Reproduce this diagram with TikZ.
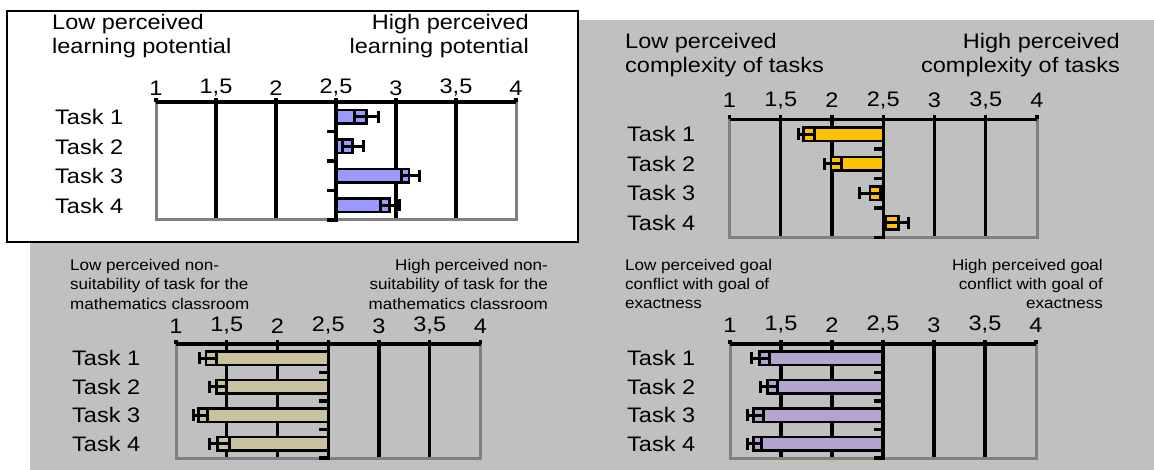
\documentclass[tikz,border=0pt]{standalone}
\usepackage{fontspec}
\setmainfont[FakeStretch=1.12]{Liberation Sans}
\newfontfamily\smallf[FakeStretch=1.1]{Liberation Sans}
\definecolor{bggrey}{HTML}{C0C0C0}
\definecolor{plotgrey}{HTML}{808080}
\definecolor{blueb}{HTML}{9999FF}
\definecolor{goldb}{HTML}{FFC000}
\definecolor{tanb}{HTML}{CAC29E}
\definecolor{lilb}{HTML}{B3A5CF}
\tikzset{
  lbl/.style={inner sep=0pt, font=\fontsize{21}{25}\selectfont},
  sml/.style={inner sep=0pt, font=\smallf\fontsize{15.5}{18}\selectfont},
  gridl/.style={line width=3.2pt, draw=black},
  frameline/.style={line width=3pt, draw=plotgrey},
  axisline/.style={line width=3.2pt, draw=black},
  barline/.style={line width=2.8pt, draw=black},
  errline/.style={line width=3pt, draw=black},
}
% #1 x0, #2 unit, #3 top, #4 H, #5 colour, #6 label offset, #7 bars
\newcommand\drawpanel[7]{%
\begin{scope}[xshift=#1pt, yshift=-#3pt, x=#2pt, y=-1pt]
  \pgfmathsetmacro\hh{#4/4}
  \foreach \v in {0.5,1,2,2.5} \draw[gridl] (\v,0) -- (\v,#4);
  \draw[frameline] (0,0) -- (0,#4) -- (3,#4) -- (3,0);
  \foreach \i/\val/\inn/\wh in {#7} {
    \pgfmathsetmacro\yc{(\i-0.5)*\hh}
    \draw[barline, fill=#5] (1.5,\yc-6.8) rectangle (\val-1,\yc+6.8);
    \draw[errline] (\inn-1,\yc) -- (\wh-1,\yc);
    \draw[errline] (\inn-1,\yc-6) -- (\inn-1,\yc+6);
    \draw[errline] (\wh-1,\yc-6) -- (\wh-1,\yc+6);
  }
  \draw[axisline] (1.5,0) -- (1.5,#4+2);
  \foreach \k in {1,2,3,4} \draw[axisline] (1.5,\k*\hh) -- ++(-9pt,0pt);
  \draw[axisline] (0,0) -- (3,0);
  \foreach \v/\t in {0/1,1/{1,5},2/2,3/{2,5},4/3,5/{3,5},6/4} {
    \draw[axisline] (\v/2,0) -- ++(0pt,4pt);
    \node[lbl] at (\v/2,-#6) {\t};
  }
\end{scope}}
\begin{document}
\begin{tikzpicture}[x=1pt,y=-1pt]
\useasboundingbox (0,0) rectangle (1154,470);
\fill[bggrey] (30,20) rectangle (1154,470);
\draw[line width=1.8pt, fill=white] (7,11) rectangle (578,242);

% Panel 1
\node[lbl, anchor=west] (p1l1) at (52,24) {Low perceived};
\node[lbl, anchor=west] (p1l2) at (52,48) {learning potential};
\node[lbl, anchor=east] (p1r1) at (529,24) {High perceived};
\node[lbl, anchor=east] (p1r2) at (529,48) {learning potential};
\drawpanel{156}{120}{102}{118}{blueb}{14}{1/2.756/2.658/2.858, 2/2.636/2.558/2.733, 3/3.108/3.042/3.192, 4/2.944/2.867/3.025}
\node[lbl, anchor=west] (p1t1) at (55,117) {Task 1};
\node[lbl, anchor=west] (p1t2) at (55,146.5) {Task 2};
\node[lbl, anchor=west] (p1t3) at (55,176) {Task 3};
\node[lbl, anchor=west] (p1t4) at (55,205.5) {Task 4};

% Panel 2
\node[lbl, anchor=west] (p2l1) at (625,43) {Low perceived};
\node[lbl, anchor=west] (p2l2) at (625,67) {complexity of tasks};
\node[lbl, anchor=east] (p2r1) at (1120,43) {High perceived};
\node[lbl, anchor=east] (p2r2) at (1120,67) {complexity of tasks};
\drawpanel{729.5}{102.5}{119.5}{118}{goldb}{19}{1/1.72/1.827/1.671, 2/1.99/2.095/1.922, 3/2.371/2.47/2.273, 4/2.647/2.517/2.744}
\node[lbl, anchor=west] (p2t1) at (627,134) {Task 1};
\node[lbl, anchor=west] (p2t2) at (627,163.5) {Task 2};
\node[lbl, anchor=west] (p2t3) at (627,193) {Task 3};
\node[lbl, anchor=west] (p2t4) at (627,222.5) {Task 4};

% Panel 3
\node[sml, anchor=west] (p3l1) at (70,266) {Low perceived non-};
\node[sml, anchor=west] (p3l2) at (70,285) {suitability of task for the};
\node[sml, anchor=west] (p3l3) at (70,304) {mathematics classroom};
\node[sml, anchor=east] (p3r1) at (548,266) {High perceived non-};
\node[sml, anchor=east] (p3r2) at (548,285) {suitability of task for the};
\node[sml, anchor=east] (p3r3) at (548,304) {mathematics classroom};
\drawpanel{176}{101.5}{344}{114}{tanb}{18}{1/1.296/1.40/1.23, 2/1.40/1.50/1.33, 3/1.22/1.31/1.17, 4/1.41/1.53/1.33}
\node[lbl, anchor=west] (p3t1) at (72,358.25) {Task 1};
\node[lbl, anchor=west] (p3t2) at (72,386.75) {Task 2};
\node[lbl, anchor=west] (p3t3) at (72,415.25) {Task 3};
\node[lbl, anchor=west] (p3t4) at (72,443.75) {Task 4};

% Panel 4
\node[sml, anchor=west] (p4l1) at (625,266) {Low perceived goal};
\node[sml, anchor=west] (p4l2) at (625,285) {conflict with goal of};
\node[sml, anchor=west] (p4l3) at (625,304) {exactness};
\node[sml, anchor=east] (p4r1) at (1103,266) {High perceived goal};
\node[sml, anchor=east] (p4r2) at (1103,285) {conflict with goal of};
\node[sml, anchor=east] (p4r3) at (1103,304) {exactness};
\drawpanel{730}{102}{344}{114}{lilb}{19}{1/1.29/1.39/1.21, 2/1.37/1.47/1.30, 3/1.23/1.33/1.17, 4/1.23/1.31/1.17}
\node[lbl, anchor=west] (p4t1) at (627,358.25) {Task 1};
\node[lbl, anchor=west] (p4t2) at (627,386.75) {Task 2};
\node[lbl, anchor=west] (p4t3) at (627,415.25) {Task 3};
\node[lbl, anchor=west] (p4t4) at (627,443.75) {Task 4};
\end{tikzpicture}
\end{document}
